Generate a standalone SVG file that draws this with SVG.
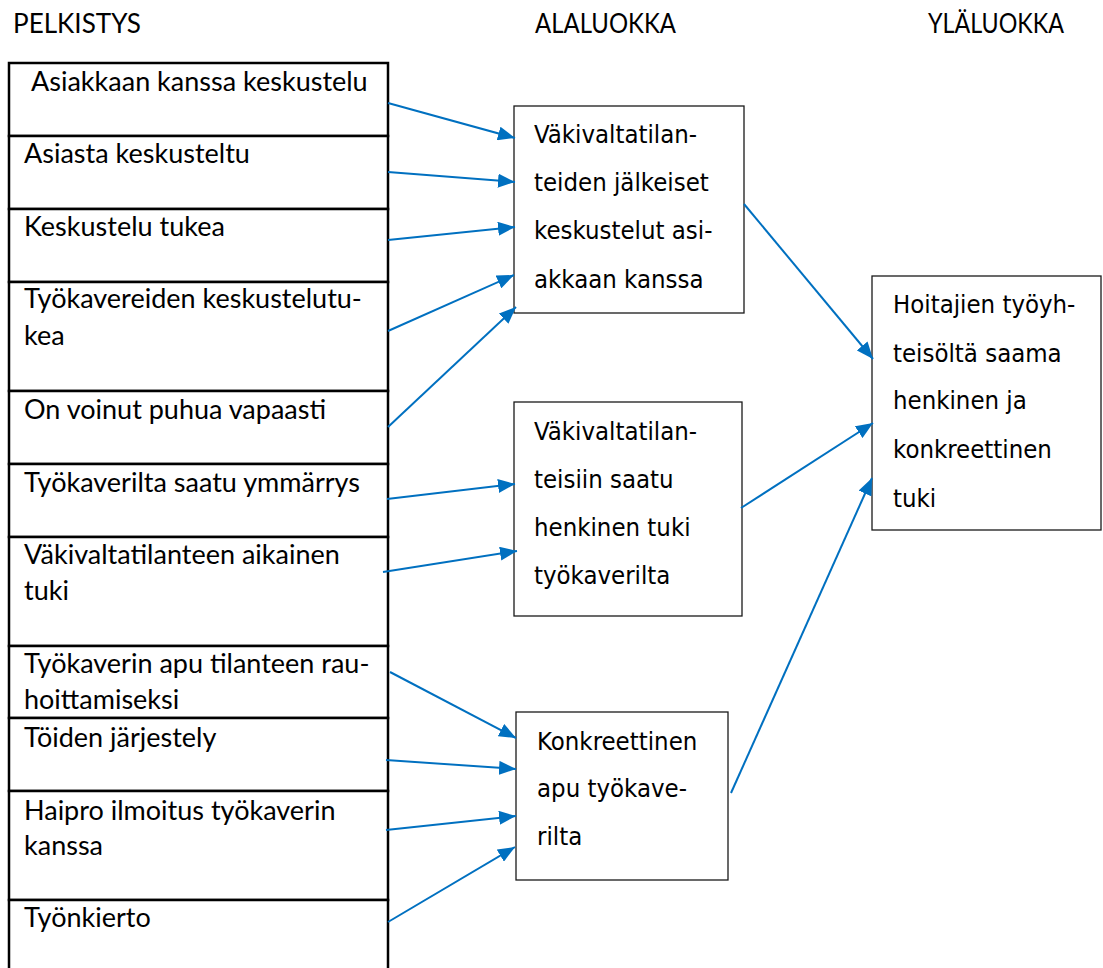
<svg xmlns="http://www.w3.org/2000/svg" width="1103" height="968" viewBox="0 0 1103 968">
  <style>
    .hdr { font-family: "Lato", "Liberation Sans", sans-serif; font-size: 27px; fill: #000; }
    .item { font-family: "Lato", "Liberation Sans", sans-serif; font-size: 27px; fill: #000; }
    .cat { font-family: "DejaVu Sans Condensed", "DejaVu Sans", sans-serif; font-stretch: condensed; font-size: 25.5px; fill: #000; }
    .cell { fill: #fff; stroke: #000; stroke-width: 2.5; }
    .box { fill: #fff; stroke: #1a1a1a; stroke-width: 1.3; }
    .conn { stroke: #0070C0; stroke-width: 2; fill: none; marker-end: url(#arrow); }
  </style>
  <defs>
    <marker id="arrow" markerUnits="userSpaceOnUse" markerWidth="18" markerHeight="14" refX="17" refY="7" orient="auto">
      <path d="M0,0 L17,7 L0,14 z" fill="#0070C0"/>
    </marker>
  </defs>

  <rect width="1103" height="968" fill="#fff"/>

  <!-- column headings -->
  <g id="headings">
    <text class="hdr" x="13" y="33" textLength="128" lengthAdjust="spacingAndGlyphs">PELKISTYS</text>
    <text class="hdr" x="535" y="33" textLength="141" lengthAdjust="spacingAndGlyphs">ALALUOKKA</text>
    <text class="hdr" x="928" y="33" textLength="136" lengthAdjust="spacingAndGlyphs">YLÄLUOKKA</text>
  </g>

  <!-- reduced expressions, one table row each -->
  <g id="r1"><rect class="cell" x="9" y="63" width="379" height="73"/><text class="item" x="31" y="91">Asiakkaan kanssa keskustelu</text></g>
  <g id="r2"><rect class="cell" x="9" y="136" width="379" height="73"/><text class="item" x="24" y="163">Asiasta keskusteltu</text></g>
  <g id="r3"><rect class="cell" x="9" y="209" width="379" height="73"/><text class="item" x="24" y="236">Keskustelu tukea</text></g>
  <g id="r4"><rect class="cell" x="9" y="282" width="379" height="109"/><text class="item" x="24" y="308">Työkavereiden keskustelutu-<tspan x="24" y="345">kea</tspan></text></g>
  <g id="r5"><rect class="cell" x="9" y="391" width="379" height="73"/><text class="item" x="24" y="419">On voinut puhua vapaasti</text></g>
  <g id="r6"><rect class="cell" x="9" y="464" width="379" height="73"/><text class="item" x="24" y="492">Työkaverilta saatu ymmärrys</text></g>
  <g id="r7"><rect class="cell" x="9" y="537" width="379" height="109"/><text class="item" x="24" y="564">Väkivaltatilanteen aikainen<tspan x="24" y="600">tuki</tspan></text></g>
  <g id="r8"><rect class="cell" x="9" y="646" width="379" height="72"/><text class="item" x="24" y="673">Työkaverin apu tilanteen rau-<tspan x="24" y="709">hoittamiseksi</tspan></text></g>
  <g id="r9"><rect class="cell" x="9" y="718" width="379" height="73"/><text class="item" x="24" y="747">Töiden järjestely</text></g>
  <g id="r10"><rect class="cell" x="9" y="791" width="379" height="109"/><text class="item" x="24" y="820">Haipro ilmoitus työkaverin<tspan x="24" y="855">kanssa</tspan></text></g>
  <g id="r11"><rect class="cell" x="9" y="900" width="379" height="80"/><text class="item" x="24" y="927">Työnkierto</text></g>

  <!-- subcategories -->
  <g id="sub1">
    <rect class="box" x="514" y="106" width="230" height="207"/>
    <text class="cat" x="534" y="143">Väkivaltatilan-<tspan x="534" y="191">teiden jälkeiset</tspan><tspan x="534" y="239">keskustelut asi-</tspan><tspan x="534" y="288">akkaan kanssa</tspan></text>
  </g>
  <g id="sub2">
    <rect class="box" x="514" y="402" width="228" height="214"/>
    <text class="cat" x="534" y="440">Väkivaltatilan-<tspan x="534" y="488">teisiin saatu</tspan><tspan x="534" y="536">henkinen tuki</tspan><tspan x="534" y="584">työkaverilta</tspan></text>
  </g>
  <g id="sub3">
    <rect class="box" x="516" y="712" width="212" height="168"/>
    <text class="cat" x="537" y="750">Konkreettinen<tspan x="537" y="797">apu työkave-</tspan><tspan x="537" y="845">rilta</tspan></text>
  </g>

  <!-- main category -->
  <g id="main">
    <rect class="box" x="872" y="276" width="229" height="254"/>
    <text class="cat" x="893" y="313">Hoitajien työyh-<tspan x="893" y="362">teisöltä saama</tspan><tspan x="893" y="409">henkinen ja</tspan><tspan x="893" y="458">konkreettinen</tspan><tspan x="893" y="507">tuki</tspan></text>
  </g>

  <!-- connectors -->
  <g id="connectors">
    <line class="conn" x1="388" y1="103" x2="515" y2="138"/>
    <line class="conn" x1="388" y1="172" x2="515" y2="182"/>
    <line class="conn" x1="388" y1="240" x2="515" y2="227"/>
    <line class="conn" x1="388" y1="331" x2="514" y2="275"/>
    <line class="conn" x1="388" y1="427" x2="516" y2="307"/>
    <line class="conn" x1="387" y1="499" x2="515" y2="484"/>
    <line class="conn" x1="383" y1="572" x2="517" y2="551"/>
    <line class="conn" x1="390" y1="672" x2="516" y2="738"/>
    <line class="conn" x1="386" y1="760" x2="516" y2="769"/>
    <line class="conn" x1="386" y1="830" x2="516" y2="816"/>
    <line class="conn" x1="388" y1="922" x2="515" y2="847"/>
    <line class="conn" x1="744" y1="204" x2="873" y2="359"/>
    <line class="conn" x1="741" y1="508" x2="873" y2="423"/>
    <line class="conn" x1="731" y1="793" x2="872" y2="478"/>
  </g>
</svg>
